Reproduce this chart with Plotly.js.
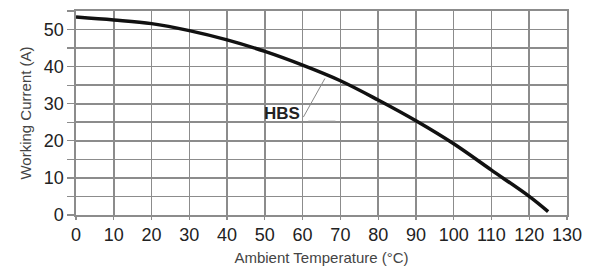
<!DOCTYPE html>
<html>
<head>
<meta charset="utf-8">
<script src="https://cdn.plot.ly/plotly-3.0.1.min.js"></script>
<style>html,body{margin:0;padding:0;background:#fff;}#chart{width:591px;height:270px;}</style>
</head>
<body>
<div id="chart"></div>
<script>
const temperature = [0, 10, 20, 30, 40, 50, 60, 70, 80, 90, 100, 110, 120, 125];
const workingCurrent = [53.4, 52.6, 51.6, 49.7, 47.2, 44.1, 40.4, 36.2, 31.0, 25.4, 19.2, 12.1, 5.0, 0.9];
const xTicks = [0, 10, 20, 30, 40, 50, 60, 70, 80, 90, 100, 110, 120, 130];
const yTicks = [0, 10, 20, 30, 40, 50];
const seriesLabel = "HBS";

const font = "Liberation Sans, Arial, sans-serif";
const gridColor = "#8c8c8c";

const trace = {
  x: temperature,
  y: workingCurrent,
  type: "scatter",
  mode: "lines",
  line: {color: "#111", width: 3.5, shape: "spline", smoothing: 1},
  hoverinfo: "x+y",
  showlegend: false
};

const layout = {
  width: 591, height: 270,
  margin: {l: 75.5, r: 24, t: 10.5, b: 54.5},
  paper_bgcolor: "#fff", plot_bgcolor: "#fff",
  font: {family: font, color: "#333"},
  xaxis: {
    range: [0, 130],
    tickvals: xTicks,
    ticktext: xTicks.map(String),
    showgrid: true, gridcolor: gridColor, gridwidth: 1.6,
    showline: true, linecolor: gridColor, linewidth: 1.6, mirror: true,
    zeroline: false,
    ticks: "outside", ticklen: 3, tickcolor: gridColor, tickwidth: 1.2,
    tickfont: {family: font, size: 18, color: "#222"},
    title: {text: "Ambient Temperature (°C)", font: {family: font, size: 15, color: "#444"}, standoff: 8}
  },
  yaxis: {
    range: [0, 55],
    tickvals: yTicks,
    ticktext: yTicks.map(String),
    showgrid: true, gridcolor: gridColor, gridwidth: 1.6,
    showline: true, linecolor: gridColor, linewidth: 1.6, mirror: true,
    zeroline: false,
    ticks: "outside", ticklen: 7, tickcolor: gridColor, tickwidth: 1.2,
    minor: {dtick: 5, tick0: 0, showgrid: true, gridcolor: gridColor, gridwidth: 1.6, ticks: "outside", ticklen: 7, tickcolor: gridColor, tickwidth: 1.2},
    tickfont: {family: font, size: 18, color: "#222"},
    title: {text: "Working Current (A)", font: {family: font, size: 15, color: "#444"}, standoff: 8}
  },
  annotations: [{
    x: 54.6, y: 27.5, xref: "x", yref: "y",
    text: seriesLabel, showarrow: false,
    font: {family: font, size: 17, color: "#222", weight: "bold"}
  }],
  shapes: [
    {type: "line", xref: "x", yref: "y", x0: 60.2, y0: 26.4, x1: 65.9, y1: 36.8, line: {color: "#888", width: 1}},
    {type: "line", xref: "x", yref: "y", x0: 61.5, y0: 25.3, x1: 68.7, y1: 25.3, line: {color: "#999", width: 1}}
  ]
};

Plotly.newPlot("chart", [trace], layout, {displayModeBar: false, staticPlot: true});
</script>
</body>
</html>
